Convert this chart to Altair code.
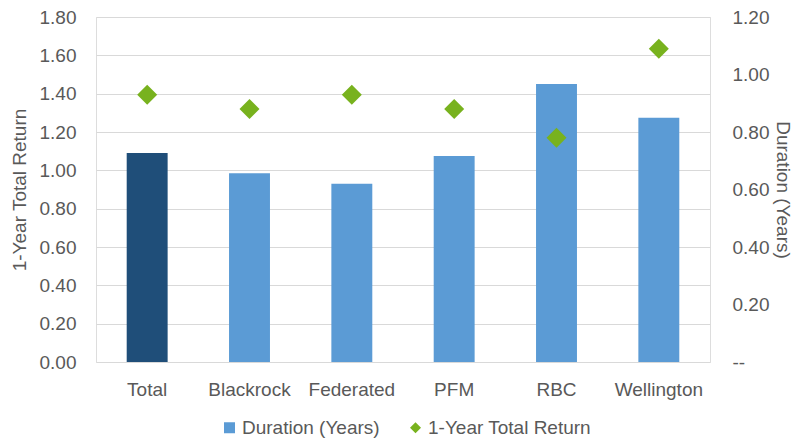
import altair as alt
import pandas as pd

managers = ["Total", "Blackrock", "Federated", "PFM", "RBC", "Wellington"]
duration = [1.09, 0.985, 0.93, 1.075, 1.45, 1.275]
total_return = [0.93, 0.88, 0.93, 0.88, 0.78, 1.09]
series_names = ["Duration (Years)", "1-Year Total Return"]
left_ticks = [0.0, 0.2, 0.4, 0.6, 0.8, 1.0, 1.2, 1.4, 1.6, 1.8]
right_ticks = [0.0, 0.2, 0.4, 0.6, 0.8, 1.0, 1.2]

df = pd.DataFrame({"manager": managers, "duration": duration, "ret": total_return})

TXT = "#595959"
FS = 19

color_scale = alt.Scale(domain=series_names, range=["#5B9BD5", "#78B21E"])
shape_scale = alt.Scale(domain=series_names, range=["square", "diamond"])


def make_legend():
    return alt.Legend(
        title=None, orient="none", legendX=124, legendY=401,
        direction="horizontal", labelFontSize=FS, labelColor=TXT,
        symbolSize=121, columnPadding=26, labelOffset=3, labelLimit=400,
        symbolStrokeWidth=0,
    )


x_enc = alt.X(
    "manager:N", sort=managers,
    scale=alt.Scale(paddingInner=0.6, paddingOuter=0.3),
    axis=alt.Axis(title=None, labelAngle=0, ticks=False, domain=False,
                  labelPadding=18, labelFontSize=FS, labelColor=TXT, grid=False),
)

base = alt.Chart(df)

bars = base.transform_calculate(series="'Duration (Years)'").mark_bar().encode(
    x=x_enc,
    y=alt.Y(
        "duration:Q",
        scale=alt.Scale(domain=[0, 1.8], nice=False),
        axis=alt.Axis(
            title="1-Year Total Return", values=left_ticks, format=".2f",
            ticks=False, domain=False, grid=True, gridColor="#D9D9D9",
            gridWidth=1, labelPadding=20, labelFontSize=FS, labelColor=TXT,
            titleFontSize=FS, titleFontWeight="normal", titleColor=TXT,
            titlePadding=10,
        ),
    ),
    color=alt.condition(
        "datum.manager == 'Total'",
        alt.value("#1F4E79"),
        alt.Color("series:N", scale=color_scale, legend=make_legend()),
    ),
)

points = base.transform_calculate(series="'1-Year Total Return'").mark_point(
    filled=True, size=400, opacity=1, strokeWidth=0
).encode(
    x=x_enc,
    y=alt.Y(
        "ret:Q",
        scale=alt.Scale(domain=[0, 1.2], nice=False),
        axis=alt.Axis(
            orient="right", title="Duration (Years)", values=right_ticks,
            labelExpr="datum.value == 0 ? '--' : format(datum.value, '.2f')",
            ticks=False, domain=False, grid=False, labelPadding=22,
            labelFontSize=FS, labelColor=TXT, titleFontSize=FS,
            titleFontWeight="normal", titleColor=TXT, titlePadding=4,
        ),
    ),
    color=alt.Color("series:N", scale=color_scale, legend=make_legend()),
    shape=alt.Shape("series:N", scale=shape_scale, legend=make_legend()),
)

chart = (
    alt.layer(bars, points)
    .resolve_scale(y="independent")
    .properties(
        width=614, height=345,
        autosize=alt.AutoSizeParams(type="none"),
        padding={"left": 88, "top": 9, "right": 84, "bottom": 76},
    )
    .configure_view(stroke=None)
    .configure(font="Liberation Sans")
)

chart.save("out.html", embed_options={"renderer": "svg", "actions": False})
